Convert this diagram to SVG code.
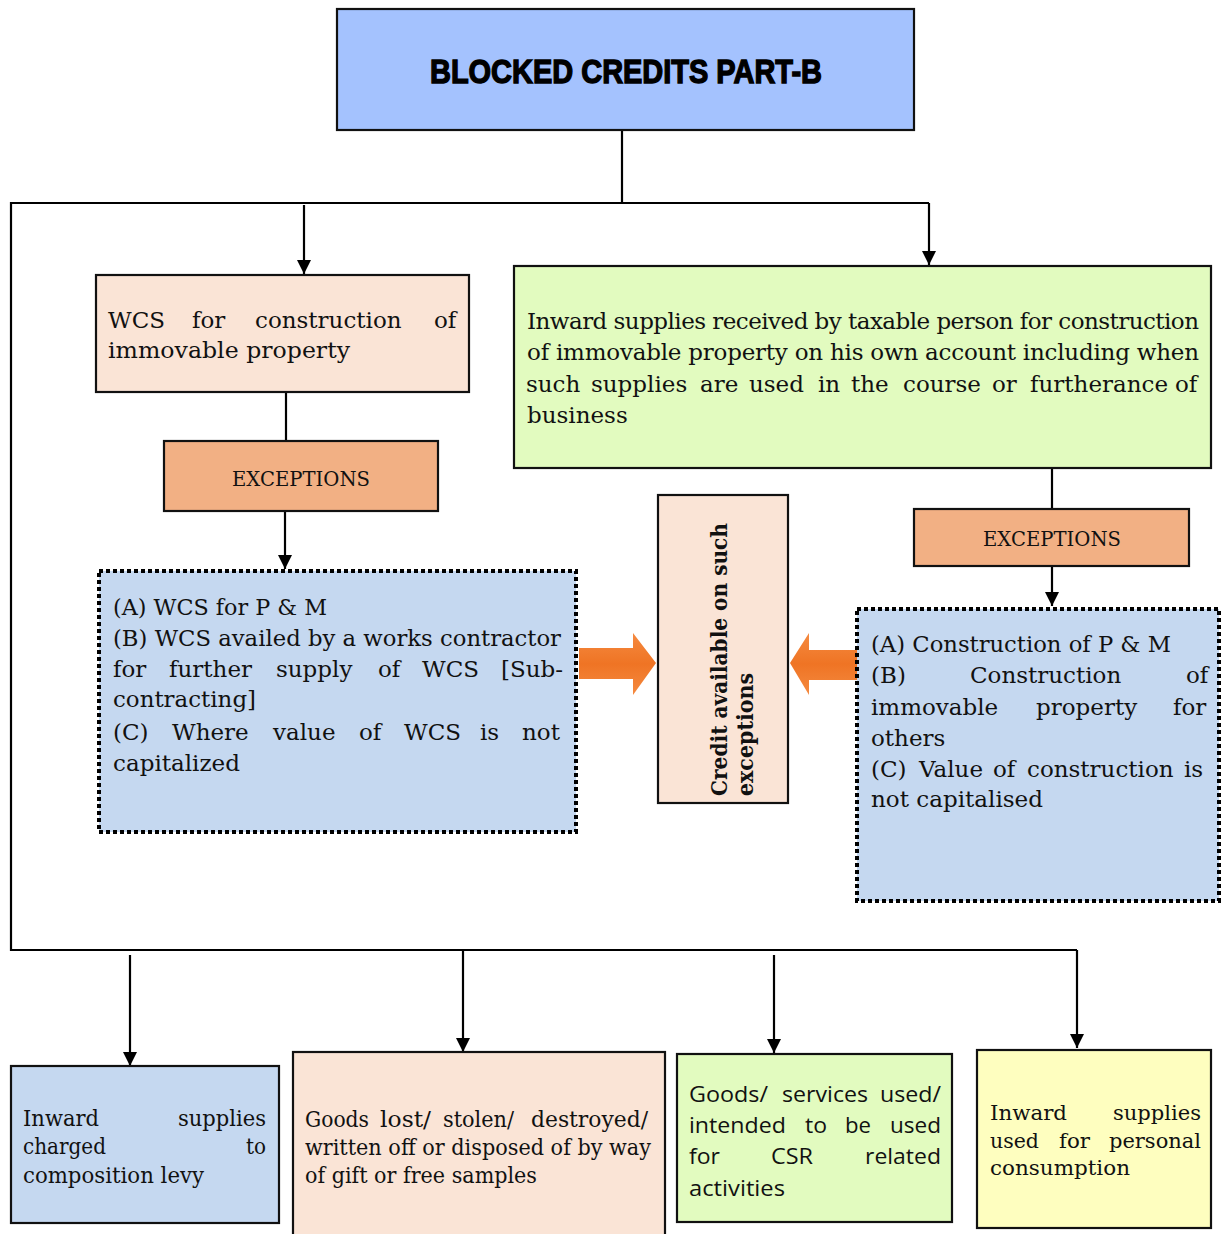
<svg xmlns="http://www.w3.org/2000/svg" width="1223" height="1234" viewBox="0 0 1223 1234">
<style>
.box{stroke:#111;stroke-width:2.2}
.dot{stroke:#000;stroke-width:4;stroke-dasharray:4 3}
.ln{fill:none;stroke:#000;stroke-width:2.2}
.s{font-family:"DejaVu Serif","Liberation Serif",serif;font-size:23px;fill:#111}
.sm{font-family:"DejaVu Serif","Liberation Serif",serif;font-size:21px;fill:#111}
.ss{font-family:"Open Sans","Noto Sans","DejaVu Sans",sans-serif;font-size:22px;fill:#111}
.ex{font-family:"DejaVu Serif","Liberation Serif",serif;font-size:20px;fill:#111}
.rb{font-family:"DejaVu Serif","Liberation Serif",serif;font-size:22px;font-weight:bold;fill:#111}
.title{font-family:"Liberation Sans","Arial",sans-serif;font-size:34px;font-weight:bold;fill:#000;stroke:#000;stroke-width:1.4}
</style>
<defs>
<marker id="ah" viewBox="0 0 14 14" refX="14" refY="7" markerWidth="14" markerHeight="14" markerUnits="userSpaceOnUse" orient="auto">
<path d="M0,0 L14,7 L0,14 Z" fill="#000"/>
</marker>
<linearGradient id="og" x1="0" y1="0" x2="0" y2="1">
<stop offset="0" stop-color="#f58a40"/>
<stop offset="0.5" stop-color="#ef7424"/>
<stop offset="1" stop-color="#f58a40"/>
</linearGradient>
</defs>
<rect width="1223" height="1234" fill="#fff"/>

<g id="connectors">
<polyline class="ln" points="622,131 622,203"/>
<polyline class="ln" points="929,203 11,203 11,950 1077,950"/>
<line class="ln" x1="304" y1="205" x2="304" y2="274" marker-end="url(#ah)"/>
<line class="ln" x1="929" y1="203" x2="929" y2="265" marker-end="url(#ah)"/>
<line class="ln" x1="286" y1="392" x2="286" y2="441"/>
<line class="ln" x1="285" y1="511" x2="285" y2="569" marker-end="url(#ah)"/>
<line class="ln" x1="1052" y1="468" x2="1052" y2="509"/>
<line class="ln" x1="1052" y1="566" x2="1052" y2="606" marker-end="url(#ah)"/>
<line class="ln" x1="130" y1="955" x2="130" y2="1066" marker-end="url(#ah)"/>
<line class="ln" x1="463" y1="950" x2="463" y2="1052" marker-end="url(#ah)"/>
<line class="ln" x1="774" y1="955" x2="774" y2="1053" marker-end="url(#ah)"/>
<line class="ln" x1="1077" y1="950" x2="1077" y2="1048" marker-end="url(#ah)"/>
<polygon points="579,648 633,648 633,633 656,663 633,695 633,679 579,679" fill="url(#og)"/>
<polygon points="857,650 809,650 809,633 790,663 809,695 809,680 857,680" fill="url(#og)"/>
</g>

<g id="title">
<rect class="box" x="337" y="9" width="577" height="121" fill="#a4c2fe"/>
<text class="title" x="430" y="83" textLength="392" lengthAdjust="spacingAndGlyphs">BLOCKED CREDITS PART-B</text>
</g>

<g id="wcs">
<rect class="box" x="96" y="275" width="373" height="117" fill="#fae4d6"/>
<text class="s" y="328"><tspan x="108">WCS</tspan><tspan x="192">for</tspan><tspan x="255">construction</tspan><tspan x="434">of</tspan></text>
<text class="s" x="108" y="358" textLength="242" lengthAdjust="spacingAndGlyphs">immovable property</text>
</g>

<g id="exc-left">
<rect class="box" x="164" y="441" width="274" height="70" fill="#f2b084"/>
<text class="ex" x="232" y="486" textLength="138" lengthAdjust="spacingAndGlyphs">EXCEPTIONS</text>
</g>

<g id="wcs-exceptions">
<rect class="dot" x="99" y="571" width="477" height="261" fill="#c5d8f0"/>
<text class="s" x="113" y="615" textLength="214" lengthAdjust="spacingAndGlyphs">(A) WCS for P &amp; M</text>
<text class="s" x="113" y="646" textLength="448" lengthAdjust="spacingAndGlyphs">(B) WCS availed by a works contractor</text>
<text class="s" y="677"><tspan x="113">for</tspan><tspan x="169">further</tspan><tspan x="276">supply</tspan><tspan x="378">of</tspan><tspan x="422">WCS</tspan><tspan x="501">[Sub-</tspan></text>
<text class="s" x="113" y="707" textLength="143" lengthAdjust="spacingAndGlyphs">contracting]</text>
<text class="s" y="740"><tspan x="113">(C)</tspan><tspan x="172">Where</tspan><tspan x="273">value</tspan><tspan x="359">of</tspan><tspan x="404">WCS</tspan><tspan x="480">is</tspan><tspan x="522">not</tspan></text>
<text class="s" x="113" y="771" textLength="127" lengthAdjust="spacingAndGlyphs">capitalized</text>
</g>

<g id="credit">
<rect class="box" x="658" y="495" width="130" height="308" fill="#fae4d6"/>
<text class="rb" transform="translate(727,796) rotate(-90)" textLength="273" lengthAdjust="spacingAndGlyphs">Credit available on such</text>
<text class="rb" transform="translate(753,796) rotate(-90)" textLength="123" lengthAdjust="spacingAndGlyphs">exceptions</text>
</g>

<g id="inward-construction">
<rect class="box" x="514" y="266" width="697" height="202" fill="#e2fbbf"/>
<text class="s" x="527" y="329" textLength="672" lengthAdjust="spacing">Inward supplies received by taxable person for construction</text>
<text class="s" x="527" y="360" textLength="672" lengthAdjust="spacing">of immovable property on his own account including when</text>
<text class="s" y="392"><tspan x="526">such</tspan><tspan x="591">supplies</tspan><tspan x="700">are</tspan><tspan x="749">used</tspan><tspan x="818">in</tspan><tspan x="851">the</tspan><tspan x="903">course</tspan><tspan x="992">or</tspan><tspan x="1030">furtherance</tspan><tspan x="1175">of</tspan></text>
<text class="s" x="527" y="423">business</text>
</g>

<g id="exc-right">
<rect class="box" x="914" y="509" width="275" height="57" fill="#f2b084"/>
<text class="ex" x="983" y="546" textLength="138" lengthAdjust="spacingAndGlyphs">EXCEPTIONS</text>
</g>

<g id="construction-exceptions">
<rect class="dot" x="857" y="609" width="362" height="292" fill="#c5d8f0"/>
<text class="s" x="871" y="652" textLength="300" lengthAdjust="spacingAndGlyphs">(A) Construction of P &amp; M</text>
<text class="s" y="683"><tspan x="871">(B)</tspan><tspan x="970">Construction</tspan><tspan x="1186">of</tspan></text>
<text class="s" y="715"><tspan x="871">immovable</tspan><tspan x="1036">property</tspan><tspan x="1173">for</tspan></text>
<text class="s" x="871" y="746">others</text>
<text class="s" y="777"><tspan x="871">(C)</tspan><tspan x="919">Value</tspan><tspan x="993">of</tspan><tspan x="1027">construction</tspan><tspan x="1184">is</tspan></text>
<text class="s" x="871" y="807" textLength="172" lengthAdjust="spacingAndGlyphs">not capitalised</text>
</g>

<g id="composition">
<rect class="box" x="11" y="1066" width="268" height="157" fill="#c5d8f0"/>
<text class="s" x="23" y="1126" textLength="76" lengthAdjust="spacingAndGlyphs">Inward</text>
<text class="s" x="178" y="1126" textLength="88" lengthAdjust="spacingAndGlyphs">supplies</text>
<text class="s" x="23" y="1154" textLength="83" lengthAdjust="spacingAndGlyphs">charged</text>
<text class="s" x="246" y="1154" textLength="20" lengthAdjust="spacingAndGlyphs">to</text>
<text class="s" x="23" y="1183" textLength="181" lengthAdjust="spacingAndGlyphs">composition levy</text>
</g>

<g id="goods-lost">
<rect class="box" x="293" y="1052" width="372" height="190" fill="#fae4d6"/>
<text class="s" x="305" y="1127" textLength="64" lengthAdjust="spacingAndGlyphs">Goods</text>
<text class="s" x="380" y="1127" textLength="51" lengthAdjust="spacingAndGlyphs">lost/</text>
<text class="s" x="443" y="1127" textLength="71" lengthAdjust="spacingAndGlyphs">stolen/</text>
<text class="s" x="531" y="1127" textLength="117" lengthAdjust="spacingAndGlyphs">destroyed/</text>
<text class="s" x="305" y="1155" textLength="346" lengthAdjust="spacingAndGlyphs">written off or disposed of by way</text>
<text class="s" x="305" y="1183" textLength="232" lengthAdjust="spacingAndGlyphs">of gift or free samples</text>
</g>

<g id="csr">
<rect class="box" x="677" y="1054" width="275" height="168" fill="#e2fbbf"/>
<text class="ss" x="689" y="1102" textLength="79" lengthAdjust="spacingAndGlyphs">Goods/</text>
<text class="ss" x="782" y="1102" textLength="86" lengthAdjust="spacingAndGlyphs">services</text>
<text class="ss" x="880" y="1102" textLength="61" lengthAdjust="spacingAndGlyphs">used/</text>
<text class="ss" x="689" y="1133" textLength="97" lengthAdjust="spacingAndGlyphs">intended</text>
<text class="ss" x="805" y="1133" textLength="22" lengthAdjust="spacingAndGlyphs">to</text>
<text class="ss" x="845" y="1133" textLength="26" lengthAdjust="spacingAndGlyphs">be</text>
<text class="ss" x="890" y="1133" textLength="51" lengthAdjust="spacingAndGlyphs">used</text>
<text class="ss" x="689" y="1164" textLength="31" lengthAdjust="spacingAndGlyphs">for</text>
<text class="ss" x="771" y="1164" textLength="42" lengthAdjust="spacingAndGlyphs">CSR</text>
<text class="ss" x="865" y="1164" textLength="76" lengthAdjust="spacingAndGlyphs">related</text>
<text class="ss" x="689" y="1196" textLength="96" lengthAdjust="spacingAndGlyphs">activities</text>
</g>

<g id="personal">
<rect class="box" x="977" y="1050" width="234" height="178" fill="#fefebf"/>
<text class="sm" x="990" y="1120" textLength="77" lengthAdjust="spacingAndGlyphs">Inward</text>
<text class="sm" x="1113" y="1120" textLength="88" lengthAdjust="spacingAndGlyphs">supplies</text>
<text class="sm" x="990" y="1148" textLength="49" lengthAdjust="spacingAndGlyphs">used</text>
<text class="sm" x="1059" y="1148" textLength="31" lengthAdjust="spacingAndGlyphs">for</text>
<text class="sm" x="1109" y="1148" textLength="92" lengthAdjust="spacingAndGlyphs">personal</text>
<text class="sm" x="990" y="1175" textLength="140" lengthAdjust="spacingAndGlyphs">consumption</text>
</g>
</svg>
